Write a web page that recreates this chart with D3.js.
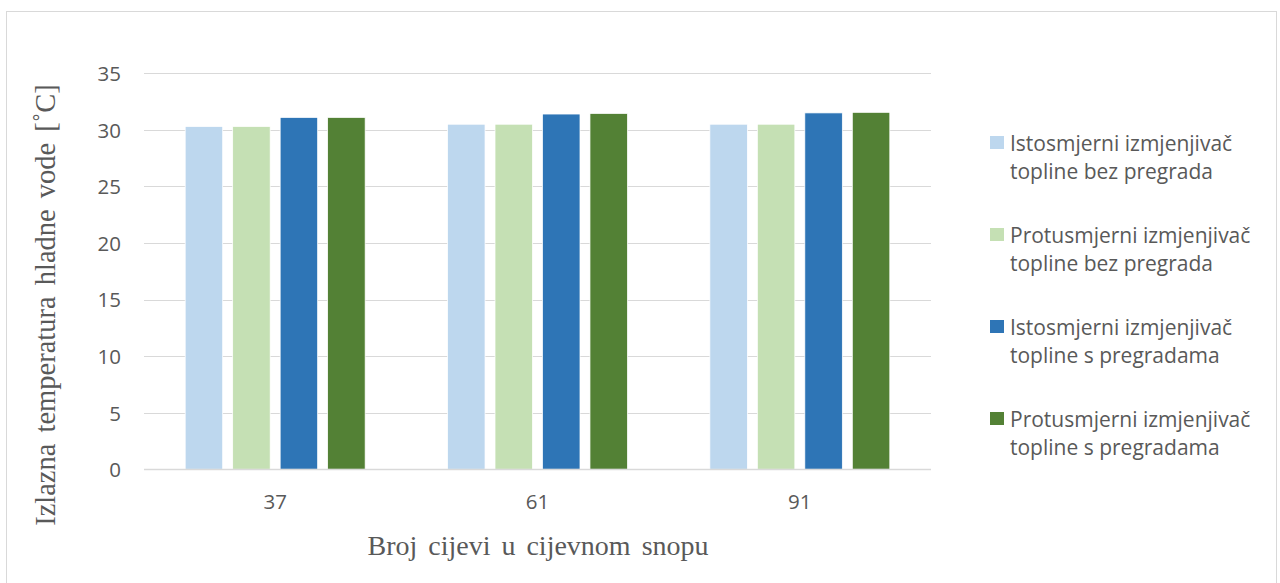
<!DOCTYPE html>
<html>
<head>
<meta charset="utf-8">
<script src="https://cdn.jsdelivr.net/npm/d3@7"></script>
<style>
  html, body { margin: 0; padding: 0; background: #fff; }
  svg { display: block; }
</style>
</head>
<body>
<svg id="chart" width="1280" height="583"></svg>
<script>
// Tube counts in the bundle (categories)
const categories = ["37", "61", "91"];

// Series names, one per heat exchanger variant
const seriesNames = [
  "Istosmjerni izmjenjivač topline bez pregrada",
  "Protusmjerni izmjenjivač topline bez pregrada",
  "Istosmjerni izmjenjivač topline s pregradama",
  "Protusmjerni izmjenjivač topline s pregradama"
];

// Outlet cold-water temperature [°C] per series, ordered as categories
const coFlowNoBaffles      = [30.3, 30.5, 30.5];
const counterFlowNoBaffles = [30.3, 30.5, 30.5];
const coFlowBaffles        = [31.1, 31.4, 31.5];
const counterFlowBaffles   = [31.1, 31.45, 31.55];

const seriesValues = [coFlowNoBaffles, counterFlowNoBaffles, coFlowBaffles, counterFlowBaffles];
const seriesColors = ["#bdd7ee", "#c5e0b4", "#2e75b6", "#538135"];

// Y axis ticks
const yTicks = [0, 5, 10, 15, 20, 25, 30, 35];

const svg = d3.select("#chart");
const W = 1280, H = 583;

// outer chart frame
svg.append("rect")
  .attr("x", 6.5).attr("y", 11.5)
  .attr("width", 1270).attr("height", H)
  .attr("fill", "#fff").attr("stroke", "#d9d9d9").attr("stroke-width", 1);

const plot = { left: 144, right: 931, top: 73.3, bottom: 469.3 };

const x0 = d3.scaleBand()
  .domain(categories)
  .range([plot.left, plot.right])
  .paddingInner(0.314)
  .paddingOuter(0.157);

const x1 = d3.scaleBand()
  .domain(d3.range(seriesNames.length))
  .range([0, x0.bandwidth()])
  .paddingInner(0.21)
  .paddingOuter(0);

const y = d3.scaleLinear().domain([0, 35]).range([plot.bottom, plot.top]);

// horizontal gridlines
svg.append("g")
  .selectAll("line")
  .data(yTicks)
  .join("line")
  .attr("x1", plot.left).attr("x2", plot.right)
  .attr("y1", d => Math.round(y(d)) + 0.5)
  .attr("y2", d => Math.round(y(d)) + 0.5)
  .attr("stroke", "#d9d9d9").attr("stroke-width", 1);

// y tick labels
const yAxis = d3.axisLeft(y).tickValues(yTicks).tickSize(0).tickPadding(0);
const gy = svg.append("g").attr("transform", `translate(${plot.left - 23},0)`).call(yAxis);
gy.select(".domain").remove();
gy.selectAll("text")
  .attr("fill", "#595959")
  .attr("dy", "0.36em")
  .style("font-family", "'Open Sans', sans-serif")
  .style("font-size", "20.5px");

// bars
const groups = svg.append("g")
  .selectAll("g")
  .data(categories)
  .join("g")
  .attr("transform", d => `translate(${x0(d)},0)`);

groups.selectAll("rect")
  .data((c, ci) => seriesValues.map((vals, si) => ({ si, v: vals[ci] })))
  .join("rect")
  .attr("x", d => x1(d.si))
  .attr("width", x1.bandwidth())
  .attr("y", d => y(d.v))
  .attr("height", d => y(0) - y(d.v))
  .attr("fill", d => seriesColors[d.si])
  .attr("stroke", "#fff").attr("stroke-width", 0.75);

// baseline
svg.append("line")
  .attr("x1", plot.left).attr("x2", plot.right)
  .attr("y1", Math.round(y(0)) + 0.5).attr("y2", Math.round(y(0)) + 0.5)
  .attr("stroke", "#d9d9d9").attr("stroke-width", 1.5);

// x tick labels
const xAxis = d3.axisBottom(x0).tickSize(0).tickPadding(0);
const gx = svg.append("g").attr("transform", "translate(0,508.5)").call(xAxis);
gx.select(".domain").remove();
gx.selectAll("text")
  .attr("fill", "#595959")
  .attr("y", 0)
  .attr("dy", 0)
  .style("font-family", "'Open Sans', sans-serif")
  .style("font-size", "20.5px");

// axis titles
svg.append("text")
  .attr("x", 538)
  .attr("y", 555)
  .attr("text-anchor", "middle")
  .attr("fill", "#595959")
  .style("font-family", "'Liberation Serif', 'Times New Roman', serif")
  .style("font-size", "28px")
  .style("word-spacing", "4px")
  .text("Broj cijevi u cijevnom snopu");

svg.append("text")
  .attr("transform", "translate(55,305) rotate(-90)")
  .attr("text-anchor", "middle")
  .attr("fill", "#595959")
  .style("font-family", "'Liberation Serif', 'Times New Roman', serif")
  .style("font-size", "28.5px")
  .style("word-spacing", "4px")
  .text("Izlazna temperatura hladne vode [˚C]");

// legend
const legendBase = [150.5, 242.5, 334.5, 426.5];
const legend = svg.append("g")
  .selectAll("g")
  .data(seriesNames)
  .join("g")
  .attr("transform", (d, i) => `translate(990,${legendBase[i]})`);

legend.append("rect")
  .attr("x", 0).attr("y", -14.5)
  .attr("width", 14).attr("height", 13)
  .attr("fill", (d, i) => seriesColors[i]);

legend.each(function(d) {
  const words = d.split(" ");
  const line1 = words.slice(0, 2).join(" ");
  const line2 = words.slice(2).join(" ");
  const t = d3.select(this).append("text")
    .attr("fill", "#595959")
    .style("font-family", "'Open Sans', sans-serif")
    .style("font-size", "21px");
  t.append("tspan").attr("x", 20).attr("y", 0).text(line1);
  t.append("tspan").attr("x", 20).attr("y", 28.5).text(line2);
});
</script>
</body>
</html>
